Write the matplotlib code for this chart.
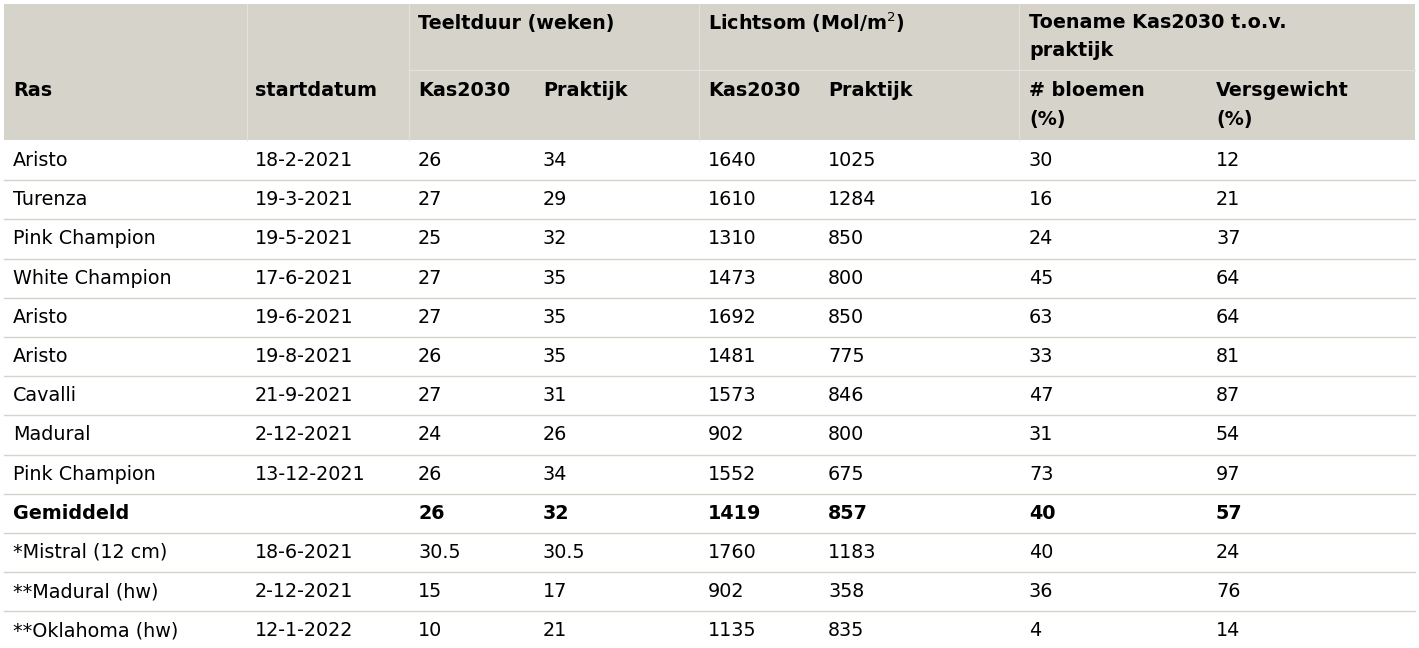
import matplotlib
matplotlib.use("Agg")
import matplotlib.pyplot as plt
from matplotlib.patches import Rectangle

ras = ["Aristo","Turenza","Pink Champion","White Champion","Aristo","Aristo","Cavalli","Madural","Pink Champion","Gemiddeld","*Mistral (12 cm)","**Madural (hw)","**Oklahoma (hw)"]
start = ["18-2-2021","19-3-2021","19-5-2021","17-6-2021","19-6-2021","19-8-2021","21-9-2021","2-12-2021","13-12-2021","","18-6-2021","2-12-2021","12-1-2022"]
teelt_kas = ["26","27","25","27","27","26","27","24","26","26","30.5","15","10"]
teelt_prak = ["34","29","32","35","35","35","31","26","34","32","30.5","17","21"]
licht_kas = ["1640","1610","1310","1473","1692","1481","1573","902","1552","1419","1760","902","1135"]
licht_prak = ["1025","1284","850","800","850","775","846","800","675","857","1183","358","835"]
bloemen = ["30","16","24","45","63","33","47","31","73","40","40","36","4"]
vers = ["12","21","37","64","64","81","87","54","97","57","24","76","14"]

W, H = 1419, 648
fig = plt.figure(figsize=(W/100, H/100), dpi=100)
ax = fig.add_axes([0, 0, 1, 1])
ax.set_xlim(0, W); ax.set_ylim(H, 0); ax.axis("off")

bg = "#d6d3cb"
ax.add_patch(Rectangle((4, 4), W-8, 136, color=bg, lw=0))
for x in [247, 409, 699, 1019]:
    ax.plot([x, x], [4, 140], color="#e4e2dc", lw=0.8)
ax.plot([409, W-4], [70, 70], color="#e4e2dc", lw=0.8)

xs = [13, 255, 418, 543, 708, 828, 1029, 1216]
fs = 13.8
kw = dict(fontsize=fs, va="center", ha="left", color="black", family="DejaVu Sans")
ax.text(418, 23, "Teeltduur (weken)", fontweight="bold", **kw)
ax.text(708, 23, "Lichtsom (Mol/m$^2$)", fontweight="bold", **kw)
ax.text(1029, 23, "Toename Kas2030 t.o.v.", fontweight="bold", **kw)
ax.text(1029, 50, "praktijk", fontweight="bold", **kw)
heads = ["Ras","startdatum","Kas2030","Praktijk","Kas2030","Praktijk","# bloemen","Versgewicht"]
for x, h in zip(xs, heads):
    ax.text(x, 91, h, fontweight="bold", **kw)
ax.text(1029, 120, "(%)", fontweight="bold", **kw)
ax.text(1216, 120, "(%)", fontweight="bold", **kw)

y0, dy = 160.5, 39.2
cols = [ras, start, teelt_kas, teelt_prak, licht_kas, licht_prak, bloemen, vers]
for i in range(len(ras)):
    y = y0 + i*dy
    bold = ras[i] == "Gemiddeld"
    for x, c in zip(xs, cols):
        ax.text(x, y, c[i], fontweight="bold" if bold else "normal", **kw)
    if i < len(ras)-1:
        ax.plot([4, W-4], [y+dy/2, y+dy/2], color="#d6d3cb", lw=1)

fig.savefig("out.png", dpi=100)
